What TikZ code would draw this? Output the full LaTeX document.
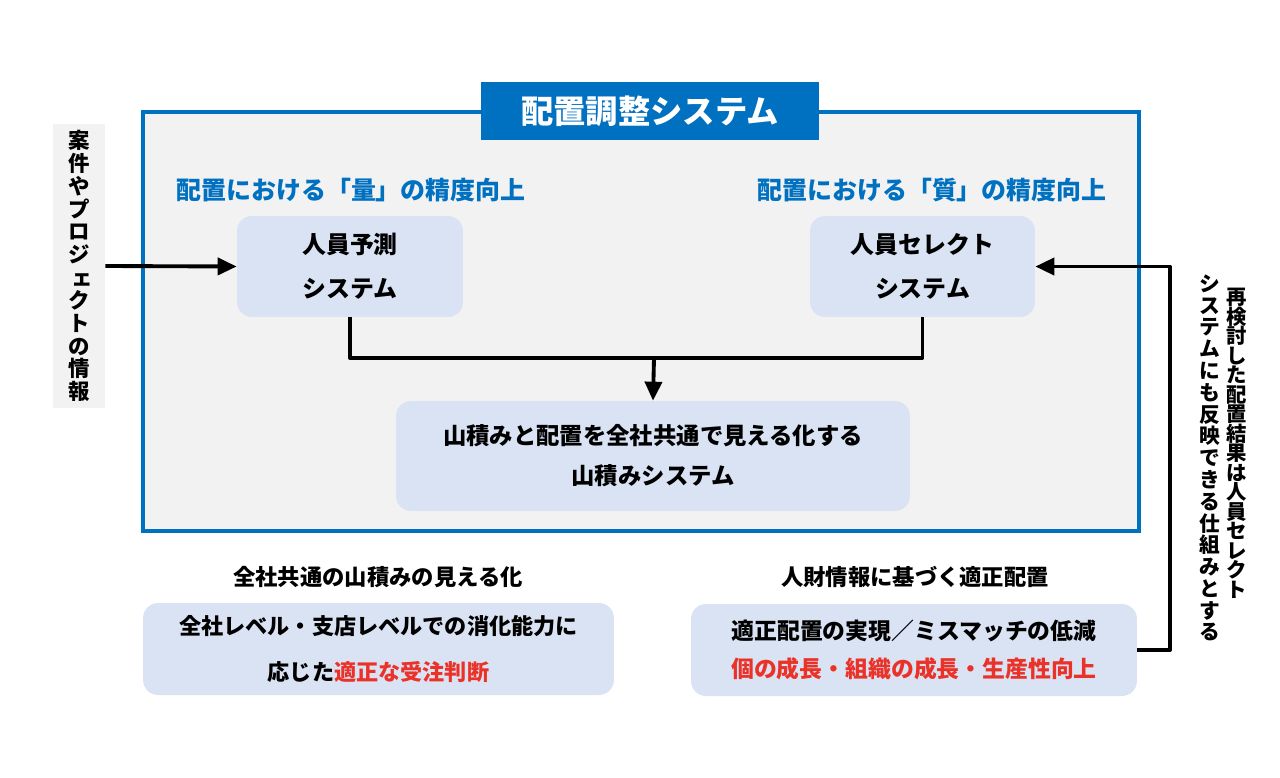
\documentclass[tikz,border=0pt]{standalone}
\usepackage{fontspec}
\setmainfont{Noto Sans CJK JP}
\usetikzlibrary{arrows.meta}
\definecolor{frameblue}{HTML}{0070C0}
\definecolor{panelgray}{HTML}{F2F2F2}
\definecolor{boxblue}{HTML}{DAE3F3}
\definecolor{alertred}{RGB}{235,50,40}

\begin{document}
\begin{tikzpicture}[x=0.02cm, y=-0.02cm,
	panel/.style={draw=frameblue, line width=2.3pt, fill=panelgray},
	sysbox/.style={fill=boxblue, rounded corners=0.3cm, align=center},
	link/.style={line width=2.2pt, line join=round},
	arrow/.style={link, -{Triangle[length=3.8mm, width=3.4mm]}}
]
	\useasboundingbox (0,0) rectangle (1280,777);

	\node[panel, minimum width=19.92cm, minimum height=8.38cm] (frame) at (641,321.5) {};
	\node[fill=frameblue, text=white, minimum width=6.76cm, minimum height=1.16cm, font=\bfseries\fontsize{18.4}{20}\selectfont] (title) at (650,111) {配置調整システム};

	\node[fill=panelgray, minimum width=1.04cm, minimum height=5.56cm, align=center, font=\bfseries\fontsize{12.2}{13}\selectfont] (info) at (79,266)
		{案\\件\\や\\プ\\ロ\\ジ\\\hspace*{0.3em}ェ\\ク\\ト\\の\\情\\報};

	\node[text=frameblue, font=\bfseries\fontsize{14.2}{16}\selectfont] (subL) at (351,190) {配置における「量」の精度向上};
	\node[text=frameblue, font=\bfseries\fontsize{14.2}{16}\selectfont] (subR) at (932,190) {配置における「質」の精度向上};

	\node[sysbox, minimum width=4.52cm, minimum height=2.02cm, font=\bfseries\fontsize{13.6}{25}\selectfont] (yosoku) at (350,266.5) {人員予測\\システム};
	\node[sysbox, minimum width=4.5cm, minimum height=2.02cm, font=\bfseries\fontsize{13.6}{25}\selectfont] (select) at (922.5,266.5) {人員セレクト\\システム};
	\node[sysbox, minimum width=10.28cm, minimum height=2.2cm, font=\bfseries\fontsize{13.3}{22.7}\selectfont] (yamazumi) at (653,456)
		{山積みと配置を全社共通で見える化する\\山積みシステム};

	\node[font=\bfseries\fontsize{12.7}{14}\selectfont] (capL) at (378,577) {全社共通の山積みの見える化};
	\node[font=\bfseries\fontsize{12.7}{14}\selectfont] (capR) at (915,577) {人財情報に基づく適正配置};

	\node[sysbox, minimum width=9.42cm, minimum height=1.84cm, font=\bfseries\fontsize{12.6}{26}\selectfont] (judge) at (378.5,649)
		{全社レベル・支店レベルでの消化能力に\\応じた\textcolor{alertred}{適正な受注判断}};
	\node[sysbox, minimum width=8.92cm, minimum height=1.84cm, font=\bfseries\fontsize{13}{21.5}\selectfont] (match) at (914,650)
		{適正配置の実現／ミスマッチの低減\\\textcolor{alertred}{個の成長・組織の成長・生産性向上}};

	\node[align=center, font=\bfseries\fontsize{11.6}{11.1}\selectfont] (noteA) at (1237,443.5)
		{再\\検\\討\\し\\た\\配\\置\\結\\果\\は\\人\\員\\セ\\レ\\ク\\ト};
	\node[align=center, font=\bfseries\fontsize{11.8}{12.4}\selectfont] (noteB) at (1210,458)
		{シ\\ス\\テ\\ム\\に\\も\\反\\映\\で\\き\\る\\仕\\組\\み\\と\\す\\る};

	\coordinate (merge) at (654,358);
	\coordinate (loop) at (1170,0);

	\draw[arrow] (info.east) -- (yosoku.west);
	\draw[link] (yosoku.south) |- (merge) -| (select.south);
	\draw[arrow] (merge) -- (yamazumi.north);
	\draw[arrow] (match.east) -| (loop |- select.east) -- (select.east);

\end{tikzpicture}
\end{document}
